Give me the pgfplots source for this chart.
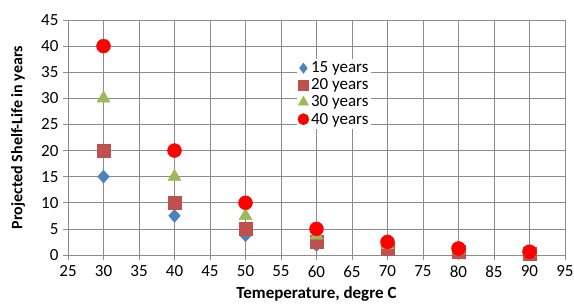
\documentclass[border=0pt]{standalone}
\usepackage{pgfplots}
\pgfplotsset{compat=1.18}
\usepackage{fontspec}
\setmainfont{Carlito}
\definecolor{sblue}{HTML}{4F81BD}
\definecolor{sred}{HTML}{C0504D}
\definecolor{sgreen}{HTML}{9BBB59}
\definecolor{gridc}{HTML}{8C8C8C}
\begin{document}
\begin{tikzpicture}
\begin{axis}[
  scale only axis,
  width=497pt, height=235pt,
  xmin=25, xmax=95, ymin=0, ymax=45,
  xtick={25,30,...,95}, ytick={0,5,...,45},
  grid=major,
  grid style={gridc, line width=0.7pt},
  axis line style={gridc, line width=0.7pt},
  tick style={gridc, line width=0.7pt},
  tick align=outside,
  major tick length=5pt,
  xtick pos=bottom, ytick pos=left,
  /pgf/number format/assume math mode=true,
  ticklabel style={font=\fontsize{17}{19}\selectfont, text=black},
  yticklabel style={xshift=-1pt},
  xticklabel style={yshift=-2pt},
  xlabel={\textbf{Temeperature, degre C}},
  ylabel={\textbf{Projected Shelf-Life in years}},
  xlabel style={font=\fontsize{17}{19}\selectfont, at={(0.5,0)}, anchor=base, yshift=-44pt},
  ylabel style={font=\fontsize{16}{18}\selectfont, at={(0,0.5)}, anchor=center, yshift=50pt},
  legend style={at={(0.46,0.835)}, anchor=north west, draw=none, fill=white,
    font=\fontsize{17}{19}\selectfont, row sep=0.5pt, inner sep=1pt},
  legend cell align=left,
  legend image code/.code={\draw[#1, mark options={scale=0.8}] plot coordinates {(0.22cm,0cm)};},
]
\addplot[only marks, mark=diamond*, mark size=6.5pt, mark options={xscale=1.2}, color=sblue] coordinates {
(30,15) (40,7.5) (50,3.75) (60,1.875) (70,0.94) (80,0.47) (90,0.23)};
\addlegendentry{15 years}
\addplot[only marks, mark=square*, mark size=6.5pt, color=sred] coordinates {
(30,20) (40,10) (50,5) (60,2.5) (70,1.25) (80,0.625) (90,0.31)};
\addlegendentry{20 years}
\addplot[only marks, mark=triangle*, mark size=7.5pt, color=sgreen] coordinates {
(30,30) (40,15) (50,7.5) (60,3.75) (70,1.875) (80,0.94) (90,0.47)};
\addlegendentry{30 years}
\addplot[only marks, mark=*, mark size=7pt, color=red] coordinates {
(30,40) (40,20) (50,10) (60,5) (70,2.5) (80,1.25) (90,0.625)};
\addlegendentry{40 years}
\end{axis}
\pgfresetboundingbox
\path (-68pt,-49pt) rectangle (506pt,255pt);
\end{tikzpicture}
\end{document}
